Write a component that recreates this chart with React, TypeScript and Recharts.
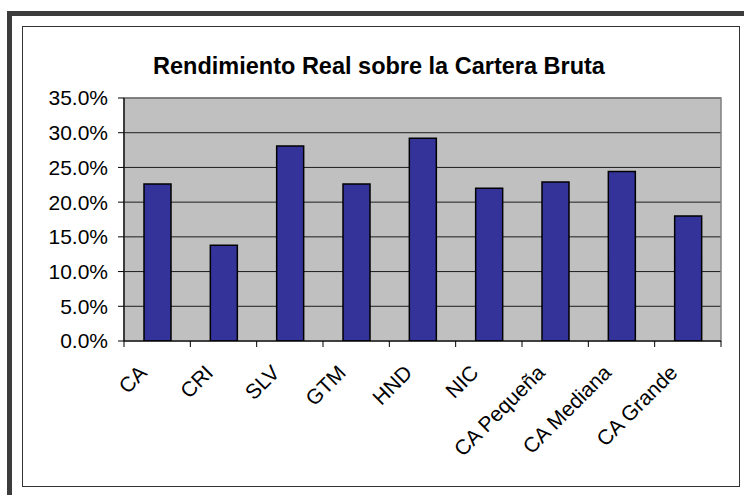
import { Bar, BarChart, CartesianGrid, ReferenceArea, XAxis, YAxis } from 'recharts';

const categories = ['CA', 'CRI', 'SLV', 'GTM', 'HND', 'NIC', 'CA Pequeña', 'CA Mediana', 'CA Grande'];
const rendimiento = [22.6, 13.8, 28.1, 22.6, 29.2, 22.0, 22.9, 24.4, 18.0];
const yTicks = [0, 5, 10, 15, 20, 25, 30, 35];

const data = categories.map((name, i) => ({ name, value: rendimiento[i] }));

const FONT = '"Liberation Sans", Arial, Helvetica, sans-serif';

function CategoryTick(props: any) {
  const { x, y, payload, index } = props;
  const half = payload.offset ?? 0;
  const last = index === categories.length - 1;
  const lx = x - 9;
  const ly = y + 33;
  return (
    <g>
      <line x1={x - half} y1={y} x2={x - half} y2={y + 6} stroke="#000" strokeWidth={1} />
      {last && <line x1={x + half} y1={y} x2={x + half} y2={y + 6} stroke="#000" strokeWidth={1} />}
      <text
        x={lx}
        y={ly}
        textAnchor="end"
        transform={`rotate(-45 ${lx} ${ly})`}
        fontSize={21}
        fontFamily={FONT}
        fill="#000"
      >
        {payload.value}
      </text>
    </g>
  );
}

export default function App() {
  return (
    <div style={{ position: 'absolute', left: 0, top: 0, width: 744, height: 495, background: '#fff', overflow: 'hidden' }}>
      {/* outer dark frame (only top and left visible) */}
      <div
        style={{
          position: 'absolute',
          left: 7,
          top: 11,
          width: 800,
          height: 600,
          borderLeft: '5px solid #3c3c3c',
          borderTop: '5px solid #3c3c3c',
        }}
      />
      {/* chart area border */}
      <div
        style={{
          position: 'absolute',
          left: 22,
          top: 26,
          width: 716,
          height: 459,
          border: '1px solid #333',
        }}
      />
      <div
        style={{
          position: 'absolute',
          left: 0,
          top: 53,
          width: 758,
          textAlign: 'center',
          fontFamily: FONT,
          fontWeight: 'bold',
          fontSize: 23.5,
          color: '#000',
        }}
      >
        Rendimiento Real sobre la Cartera Bruta
      </div>
      <div style={{ position: 'absolute', left: 0, top: 0 }}>
        <BarChart
          width={744}
          height={495}
          data={data}
          margin={{ top: 98, right: 23, left: 44, bottom: 94 }}
        >
          <CartesianGrid fill="#C0C0C0" vertical={false} stroke="#000" strokeOpacity={0.85} />
          <ReferenceArea y1={0} y2={35} fill="none" stroke="#808080" strokeWidth={1.5} ifOverflow="visible" />
          <XAxis
            dataKey="name"
            interval={0}
            height={60}
            tickLine={false}
            tickSize={0}
            tickMargin={0}
            axisLine={{ stroke: '#000', strokeWidth: 1.2 }}
            tick={<CategoryTick />}
          />
          <YAxis
            width={80}
            domain={[0, 35]}
            ticks={yTicks}
            interval={0}
            allowDataOverflow
            tickFormatter={(v: number) => `${v.toFixed(1)}%`}
            tickSize={6}
            tickMargin={10}
            tickLine={{ stroke: '#000' }}
            axisLine={{ stroke: '#000', strokeWidth: 1.2 }}
            tick={{ fontSize: 21, fontFamily: FONT, fill: '#000' }}
          />
          <Bar
            dataKey="value"
            barSize={27}
            fill="#333399"
            stroke="#000"
            strokeWidth={1.5}
            isAnimationActive={false}
          />
        </BarChart>
      </div>
    </div>
  );
}
